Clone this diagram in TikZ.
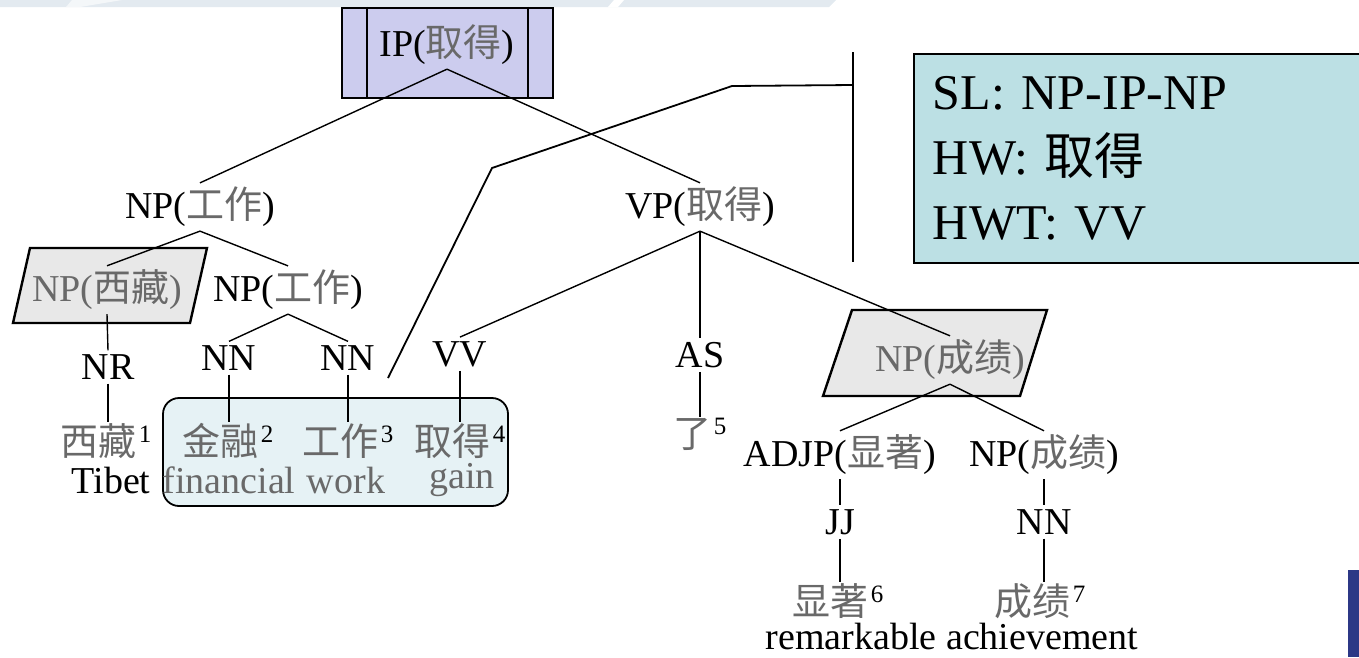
\documentclass[tikz,border=0pt]{standalone}
\usepackage{fontspec}
\setmainfont{Liberation Serif}
\newfontfamily\cjkfont{Noto Sans CJK SC}
\usetikzlibrary{positioning}
\definecolor{ipcolor}{RGB}{204, 204, 238}
\definecolor{infocolor}{RGB}{188, 224, 228}
\definecolor{headcolor}{RGB}{232, 232, 232}
\definecolor{phrasecolor}{RGB}{230, 242, 245}
\definecolor{bandcolor}{RGB}{227, 234, 240}
\definecolor{barcolor}{RGB}{44, 56, 134}
\definecolor{zhgray}{RGB}{105, 105, 105}
\newcommand{\zh}[1]{{\cjkfont\color{zhgray}#1}}
\newcommand{\idx}[1]{\hspace{2pt}\raisebox{13pt}{\fontsize{25}{25}\selectfont\color{black}#1}}

\begin{document}
\begin{tikzpicture}[x=1pt, y=-1pt,
    tag/.style={inner sep=4pt, font=\fontsize{38}{44}\selectfont},
    word/.style={inner sep=1pt, font=\fontsize{38}{44}\selectfont},
    gloss/.style={inner sep=0pt, anchor=base, font=\fontsize{38}{44}\selectfont},
    hl/.style={text=zhgray},
    branch/.style={line width=1.4pt},
    link/.style={line width=1.8pt},
    head/.style={draw, line width=2.4pt, fill=headcolor},
    ipbox/.style={draw, line width=2.4pt, fill=ipcolor},
    infobox/.style={draw, line width=1.8pt, fill=infocolor, align=left, inner xsep=19pt, font=\fontsize{50}{65}\selectfont},
    phrase/.style={draw, line width=1.8pt, fill=phrasecolor, rounded corners=16pt}
]
    \useasboundingbox (0,0) rectangle (1359,657);

    % slide background
    \fill[bandcolor] (0,0) -- (836,0) -- (829,7) -- (0,7) -- cycle;
    \fill[white!60!bandcolor] (66,7) -- (72,0) -- (122,0) -- (80,7) -- cycle;
    \fill[white] (608,7) -- (614,0) -- (624,0) -- (618,7) -- cycle;
    \fill[barcolor] (1348,570) rectangle (1359,657);

    % Root
    \node[ipbox, minimum width=211pt, minimum height=90pt] (ipbox) at (447.5,53) {};
    \draw[line width=2.4pt] ([xshift=26pt]ipbox.north west) -- ([xshift=26pt]ipbox.south west);
    \draw[line width=2.4pt] ([xshift=-26pt]ipbox.north east) -- ([xshift=-26pt]ipbox.south east);
    \node[tag] (ip) at (447,45) {IP(\zh{取得})};

    % Rule box
    \node[infobox, anchor=north west, minimum width=470pt, minimum height=209pt, text width=432pt] (info) at (913,53)
        {SL: NP-IP-NP\\HW: {\cjkfont 取得}\\HWT: VV};

    % Phrases
    \node[tag] (np0) at (200,207) {NP(\zh{工作})};
    \node[tag] (vp) at (700,207) {VP(\zh{取得})};
    \draw[head] (30,248) -- (207,248) -- (190,323) -- (13,323) -- cycle;
    \node[tag, hl] (npxz) at (107,290) {NP(\zh{西藏})};
    \node[tag] (np1) at (288,290) {NP(\zh{工作})};
    \draw[head] (852,310) -- (1047,310) -- (1020,396) -- (823,396) -- cycle;
    \node[tag, hl] (npcj) at (950,360) {NP(\zh{成绩})};
    \node[tag] (adjp) at (840,455) {ADJP(\zh{显著})};
    \node[tag] (np3) at (1044,455) {NP(\zh{成绩})};

    % POS tags
    \node[tag] (nr) at (108,367) {NR};
    \node[tag] (nn1) at (229,358) {NN};
    \node[tag] (nn2) at (348,358) {NN};
    \node[tag] (vv) at (460,354) {VV};
    \node[tag] (as) at (700,355) {AS};
    \node[tag] (jj) at (840,522) {JJ};
    \node[tag] (nn3) at (1044,522) {NN};

    % Source phrase
    \node[phrase, minimum width=345pt, minimum height=108pt] (phrase) at (335.5,452) {};

    % Words
    \node[word] (w1) at (106,441) {\zh{西藏}\idx{1}};
    \node[word, hl] (w2) at (228,441) {\zh{金融}\idx{2}};
    \node[word, hl] (w3) at (348,441) {\zh{工作}\idx{3}};
    \node[word, hl] (w4) at (460,441) {\zh{取得}\idx{4}};
    \node[word] (w5) at (700,434) {\zh{了}\idx{5}};
    \node[word] (w6) at (838,601) {\zh{显著}\idx{6}};
    \node[word] (w7) at (1040,601) {\zh{成绩}\idx{7}};

    % Glosses
    \node[gloss] (g1) at (111,493) {Tibet};
    \node[gloss, hl] (g2) at (229,493) {financial};
    \node[gloss, hl] (g3) at (346,493) {work};
    \node[gloss, hl] (g4) at (462,488) {gain};
    \node[gloss] (g67) at (952,649) {remarkable achievement};

    % Branches
    \draw[branch] (ip.south) -- (np0.north);
    \draw[branch] (ip.south) -- (vp.north);
    \draw[branch] (np0.south) -- (npxz.north);
    \draw[branch] (np0.south) -- (np1.north);
    \draw[branch] (np1.south) -- (nn1.north);
    \draw[branch] (np1.south) -- (nn2.north);
    \draw[branch] (npxz.south) -- (nr.north);
    \draw[branch] (vp.south) -- (vv.north);
    \draw[branch] (vp.south) -- (as.north);
    \draw[branch] (vp.south) -- (npcj.north);
    \draw[branch] (npcj.south) -- (adjp.north);
    \draw[branch] (npcj.south) -- (np3.north);
    \draw[branch] (adjp.south) -- (jj.north);
    \draw[branch] (np3.south) -- (nn3.north);
    \draw[branch] (nr.south) -- (nr.south |- w1.north);
    \draw[branch] (nn1.south) -- (nn1.south |- w2.north);
    \draw[branch] (nn2.south) -- (nn2.south |- w3.north);
    \draw[branch] (vv.south) -- (vv.south |- w4.north);
    \draw[branch] (as.south) -- (as.south |- w5.north);
    \draw[branch] (jj.south) -- (jj.south |- w6.north);
    \draw[branch] (nn3.south) -- (nn3.south |- w7.north);

    % Callout to rule
    \coordinate (src) at (388,378);
    \coordinate (bendA) at (492,168);
    \coordinate (bendB) at (732,86);
    \coordinate (brmid) at (853,85);
    \coordinate (brtop) at (853,52);
    \coordinate (brbot) at (853,262);
    \draw[link] (src) -- (bendA) -- (bendB) -- (brmid);
    \draw[link] (brtop) -- (brbot);

\end{tikzpicture}
\end{document}
